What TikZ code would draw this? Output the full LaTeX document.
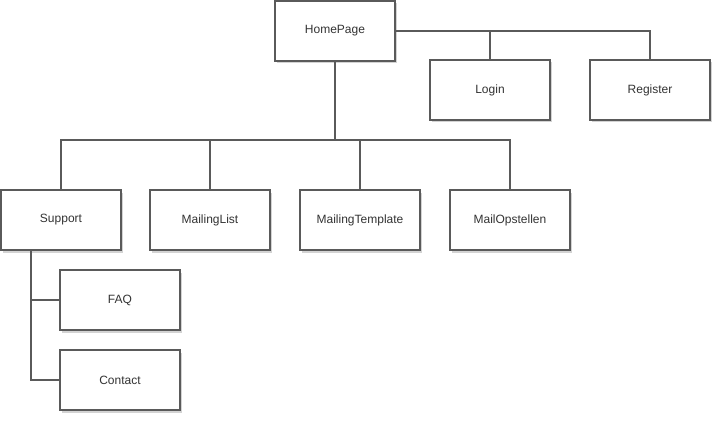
\documentclass[tikz,border=0pt]{standalone}
\usepackage{fontspec}
\setmainfont{Liberation Sans}
\usepackage{tikz}
\usepackage{xcolor}
\usetikzlibrary{shadows}

\definecolor{linegrey}{HTML}{5A5A5A}
\definecolor{textgrey}{HTML}{333333}

\begin{document}
\begin{tikzpicture}[x=1pt,y=-1pt,every node/.style={inner sep=0pt},
  page/.style={rectangle,draw=linegrey,fill=white,line width=1.2pt,text=textgrey,
    minimum width=120pt,minimum height=60pt,font=\fontsize{12}{14}\selectfont,
    drop shadow={shadow xshift=2pt,shadow yshift=-2.5pt,fill=gray,opacity=0.35}},
  link/.style={draw=linegrey,line width=1.2pt}]
\useasboundingbox (0,0) rectangle (722,422);
\node (home) at (335,31) [page] {HomePage};
\node (login) at (490,90) [page] {Login};
\node (register) at (650,90) [page] {Register};
\node (support) at (61,220) [page] {Support};
\node (mlist) at (210,220) [page] {MailingList};
\node (mtemplate) at (360,220) [page] {MailingTemplate};
\node (mopstellen) at (510,220) [page] {MailOpstellen};
\node (faq) at (120,300) [page] {FAQ};
\node (contact) at (120,380) [page] {Contact};
\coordinate (bus) at (335,140);
\coordinate (sub) at (31,250);
\draw[link] (home.east) -| (login.north);
\draw[link] (home.east) -| (register.north);
\draw[link] (home.south) -- (bus);
\draw[link] (bus) -| (support.north);
\draw[link] (bus) -| (mlist.north);
\draw[link] (bus) -| (mtemplate.north);
\draw[link] (bus) -| (mopstellen.north);
\draw[link] (sub) |- (faq.west);
\draw[link] (sub) |- (contact.west);
\end{tikzpicture}
\end{document}
